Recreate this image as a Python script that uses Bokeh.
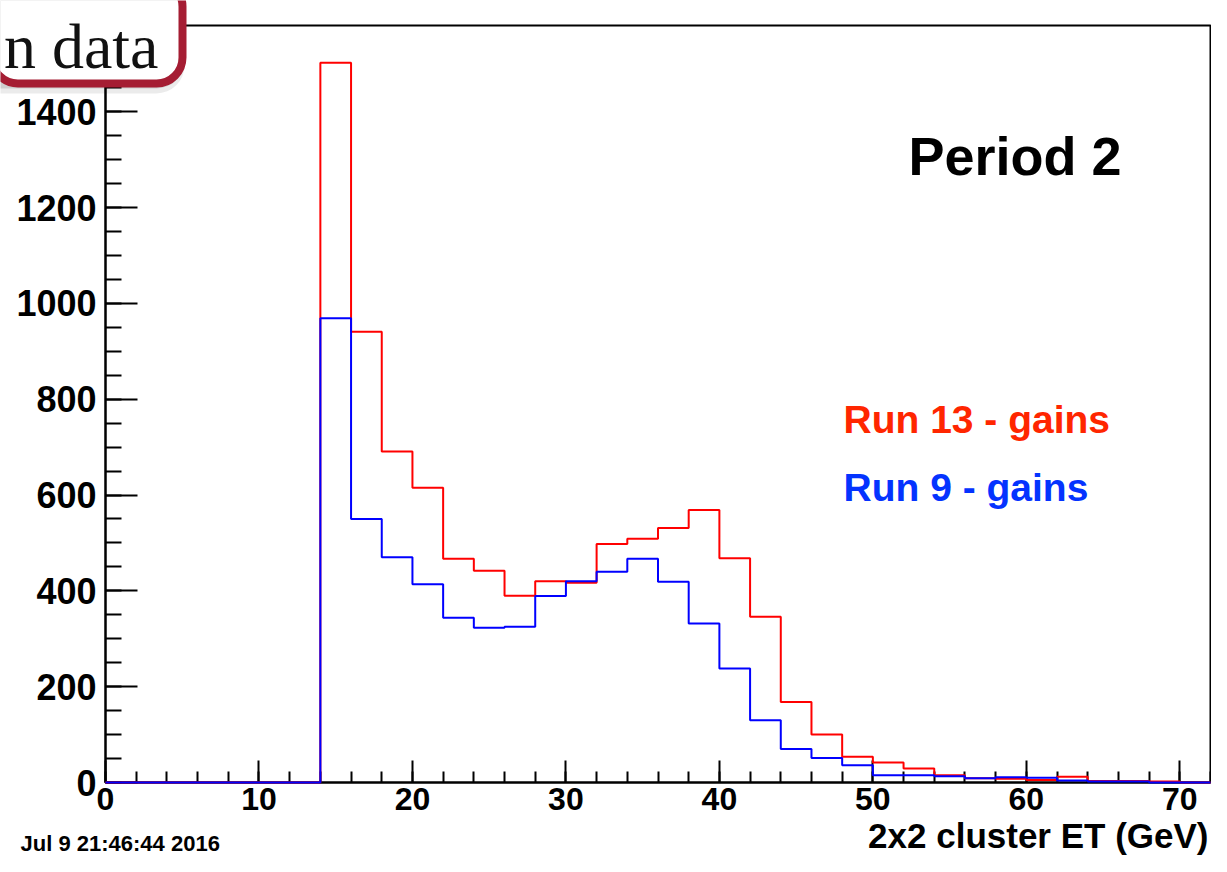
from bokeh.plotting import figure
from bokeh.models import Range1d, SingleIntervalTicker, Label, BoxAnnotation
from bokeh.embed import file_html
from bokeh.resources import INLINE

# ---- data ----
bin_edges = list(range(0, 74, 2))  # 0..72, 36 bins of width 2
run13_counts = [0, 0, 0, 0, 0, 0, 0,
                1502, 941, 691, 615, 467, 442, 390, 420, 417,
                498, 509, 531, 569, 468, 346, 168, 100, 54,
                42, 29, 15, 9, 8, 5, 12, 3, 3, 2, 0]
run9_counts = [0, 0, 0, 0, 0, 0, 0,
               969, 550, 470, 414, 344, 323, 325, 389, 420,
               440, 467, 419, 332, 238, 130, 70, 51, 36,
               15, 15, 13, 9, 11, 10, 4, 2, 2, 0, 0]
x_title = "2x2 cluster ET (GeV)"
date_text = "Jul  9 21:46:44 2016"
period_text = "Period 2"
run13_label = "Run 13 - gains"
run9_label = "Run 9 - gains"
box_text = "n data"

X_MAX = 72
Y_MAX = 1580

# layout (px): canvas size and where the histogram box sits inside it
W, H = 1211, 856
FL, FT = 105, 25
FW, FH = 1105, 757
SX = FW / X_MAX
SY = FH / Y_MAX
X0 = -FL / SX
X1 = X_MAX + (W - FL - FW) / SX
Y0 = -(H - FT - FH) / SY
Y1 = Y_MAX + FT / SY

SANS_MID = 0.3465     # baseline offset below label anchor (fraction of font size)


def dx(px):
    return X0 + px / SX


def dy(py):
    return Y1 - py / SY


p = figure(width=W, height=H, min_border=0,
           x_range=Range1d(X0, X1), y_range=Range1d(Y0, Y1),
           output_backend="svg", toolbar_location=None)
p.title.visible = False
p.xgrid.visible = False
p.ygrid.visible = False
p.outline_line_color = None
p.background_fill_color = "white"
p.border_fill_color = "white"

# frame box of the histogram area
p.add_layout(BoxAnnotation(left=0, right=X_MAX, bottom=0, top=Y_MAX,
                           fill_alpha=0, line_color="black", line_alpha=1.0,
                           line_width=2, level="underlay"))

p.xaxis.ticker = SingleIntervalTicker(interval=10, num_minor_ticks=5)
p.yaxis.ticker = SingleIntervalTicker(interval=200, num_minor_ticks=4)
p.xaxis.fixed_location = 0
p.yaxis.fixed_location = 0
p.xaxis.bounds = (0, X_MAX)
p.yaxis.bounds = (0, Y_MAX)

for ax in (p.xaxis[0], p.yaxis[0]):
    ax.level = "underlay"
    ax.axis_line_width = 2
    ax.axis_line_color = "black"
    ax.major_tick_line_width = 2
    ax.minor_tick_line_width = 2
    ax.major_tick_line_color = "black"
    ax.minor_tick_line_color = "black"
    ax.major_tick_out = 0
    ax.minor_tick_out = 0
    ax.major_label_text_font = "Liberation Sans"
    ax.major_label_text_font_style = "bold"
    ax.major_label_text_color = "black"

p.xaxis.major_tick_in = 22
p.xaxis.minor_tick_in = 11
p.xaxis.major_label_text_font_size = "32px"
p.xaxis.major_label_standoff = 5

p.yaxis.major_tick_in = 32
p.yaxis.minor_tick_in = 16
p.yaxis.major_label_text_font_size = "36px"
p.yaxis.major_label_standoff = 9

# histograms as steps
red_y = run13_counts + [run13_counts[-1]]
blue_y = run9_counts + [run9_counts[-1]]
p.step(bin_edges, red_y, mode="after", line_color="#ff0000", line_width=2)
p.step(bin_edges, blue_y, mode="after", line_color="#0000ff", line_width=2)


def sans_label(xpx, baseline, text, size, color, align):
    return Label(x=dx(xpx), y=dy(baseline - SANS_MID * size), text=text,
                 text_font="Liberation Sans", text_font_style="bold",
                 text_font_size=f"{size}px", text_color=color, text_align=align,
                 text_baseline="alphabetic")


p.add_layout(sans_label(908, 174, period_text, 54, "black", "left"))
p.add_layout(sans_label(843, 433, run13_label, 39, "#ff2600", "left"))
p.add_layout(sans_label(843, 500.5, run9_label, 39, "#0433ff", "left"))
p.add_layout(sans_label(1208, 847, x_title, 35, "black", "right"))
p.add_layout(sans_label(20, 851, date_text, 22, "black", "left"))

# rounded "… data" box at the top-left (soft shadow first)
for off, alpha in ((10, 0.08), (5, 0.12)):
    p.add_layout(Label(x=dx(184), y=dy(31.5 + off), text=" ", text_font="Liberation Serif",
                       text_font_size="64px", text_align="right", text_baseline="alphabetic",
                       background_fill_color="black", background_fill_alpha=alpha,
                       border_line_alpha=0, border_radius=28,
                       padding=dict(left=200, right=25, top=30, bottom=2)))
p.add_layout(Label(x=dx(182), y=dy(31.5), text=box_text, text_font="Liberation Serif",
                   text_font_size="64px", text_color="#111111", text_align="right",
                   text_baseline="alphabetic",
                   background_fill_color="white", border_line_color="#a51d33",
                   border_line_width=8, border_radius=26,
                   padding=dict(left=12, right=24, top=30, bottom=2)))

open("out.html", "w").write(file_html(p, INLINE))
